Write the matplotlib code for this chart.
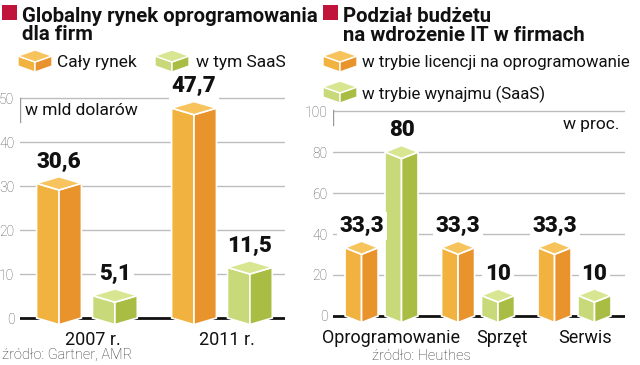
import numpy as np
import matplotlib.pyplot as plt
import matplotlib.transforms as mtransforms
from matplotlib.patches import Polygon, Rectangle

plt.rcParams['font.family'] = ['Roboto', 'DejaVu Sans']

# --- dane ---
lata = ['2007 r.', '2011 r.']
caly_rynek = [30.6, 47.7]
w_tym_saas = [5.1, 11.5]

kategorie = ['Oprogramowanie', 'Sprzęt', 'Serwis']
licencja = [33.3, 33.3, 33.3]
wynajem = [80, 10, 10]

# --- kolory ---
POMAR = ('#F2B23F', '#E8932B', '#F7C35C')   # lewa sciana, prawa sciana, gora
ZIEL = ('#C8D97A', '#A9BD45', '#D8E692')
CZERW = '#C0143C'
GRID = '#BDBDBD'

W, H = 640, 365
fig = plt.figure(figsize=(W / 100, H / 100), dpi=100)
px = mtransforms.Affine2D().scale(1 / W, -1 / H).translate(0, 1) + fig.transFigure


def fmt(v):
    return ('%g' % v).replace('.', ',')


def kostka(ax, c, w, v, d, cols):
    lewa = [(c - w, 0), (c, -d), (c, v - d), (c - w, v)]
    prawa = [(c, -d), (c + w, 0), (c + w, v), (c, v - d)]
    gora = [(c - w, v), (c, v - d), (c + w, v), (c, v + d)]
    for pts, col in zip((lewa, prawa, gora), cols):
        ax.add_patch(Polygon(pts, closed=True, fc=col, ec='white', lw=1.2,
                             zorder=3, clip_on=False))
    ax.annotate(fmt(v), (c, v + d), xytext=(0, 3), textcoords='offset points',
                ha='center', va='bottom', fontsize=16, fontweight='black',
                color='#111', zorder=4,
                bbox=dict(boxstyle='square,pad=0.12', fc='white', ec='none'))


def ikona(x, y, cols):
    w, d, h = 17, 6, 10
    c = x + w
    lewa = [(x, y + d), (c, y + 2 * d), (c, y + 2 * d + h), (x, y + d + h)]
    prawa = [(c, y + 2 * d), (x + 2 * w, y + d), (x + 2 * w, y + d + h), (c, y + 2 * d + h)]
    gora = [(x, y + d), (c, y + 2 * d), (x + 2 * w, y + d), (c, y)]
    for pts, col in zip((lewa, prawa, gora), cols):
        fig.add_artist(Polygon(pts, closed=True, fc=col, ec='white', lw=1, transform=px))


def ftext(x, y, s, **kw):
    fig.text(x / W, 1 - y / H, s, **kw)


def uklad(ax, ylim, step, grupy, przes, xlim):
    ax.set_xlim(*xlim)
    ax.set_ylim(*ylim)
    ax.set_yticks(np.arange(0, ylim[1], step))
    ax.set_xticks(np.arange(len(grupy)) + np.array(przes), grupy)
    for s in ax.spines.values():
        s.set_visible(False)
    ax.tick_params(length=0)
    ax.tick_params(axis='y', pad=4, labelsize=10, labelcolor='#555')
    ax.tick_params(axis='x', pad=3, labelsize=13, labelcolor='#111')
    for t in ax.get_yticklabels():
        t.set_fontweight('light')
    ax.yaxis.grid(True, color=GRID, lw=1)
    ax.set_axisbelow(True)
    ax.axhline(0, color='#111', lw=2, zorder=2)


# --- lewy wykres ---
ax1 = fig.add_axes([20 / W, 1 - 326.8 / H, 265 / W, 231 / H])
uklad(ax1, (-2, 50.5), 10, lata, [0.045, 0.04], (-0.496, 1.467))
x = np.arange(len(lata))
for i in range(len(lata)):
    kostka(ax1, x[i] - 0.207, 0.166, caly_rynek[i], 1.5, POMAR)
    kostka(ax1, x[i] + 0.207, 0.166, w_tym_saas[i], 1.5, ZIEL)
ax1.axvline(-0.496, ymin=0.887, ymax=0.99, color='#999', lw=1)
ax1.text(0.02, 0.938, 'w mld dolarów', transform=ax1.transAxes,
         ha='left', va='center', fontsize=12.5, color='#111')

# --- prawy wykres ---
ax2 = fig.add_axes([333 / W, 1 - 325 / H, 292 / W, 216 / H])
uklad(ax2, (-4.4, 101), 20, kategorie, [0.1, 0.25, 0.11], (-0.503, 2.523))
x = np.arange(len(kategorie))
for i in range(len(kategorie)):
    kostka(ax2, x[i] - 0.207, 0.171, licencja[i], 3.2, POMAR)
    kostka(ax2, x[i] + 0.207, 0.171, wynajem[i], 3.2, ZIEL)
ax2.axvline(-0.503, ymin=0.926, ymax=0.995, color='#999', lw=1)
ax2.text(0.98, 0.93, 'w proc.', transform=ax2.transAxes,
         ha='right', va='center', fontsize=12.5, color='#111')

# --- tytuly i legendy ---
for xr in (2, 323):
    fig.add_artist(Rectangle((xr, 5), 15, 15, fc=CZERW, ec='none', transform=px))
tkw = dict(fontsize=14.7, fontweight='bold', color='#111', va='baseline')
ftext(22, 22, 'Globalny rynek oprogramowania', **tkw)
ftext(22, 40, 'dla firm', **tkw)
ftext(343, 22, 'Podział budżetu', **tkw)
ftext(343, 41, 'na wdrożenie IT w firmach', **tkw)

ikona(18, 50, POMAR)
ftext(57, 62, 'Cały rynek', fontsize=12.5, color='#111', va='center')
ikona(155, 50, ZIEL)
ftext(196, 62, 'w tym SaaS', fontsize=12.5, color='#111', va='center')
ikona(323, 50, POMAR)
ftext(362, 63, 'w trybie licencji na oprogramowanie', fontsize=12.2, color='#111', va='center')
ikona(323, 81, ZIEL)
ftext(362, 94, 'w trybie wynajmu (SaaS)', fontsize=12.2, color='#111', va='center')

skw = dict(fontsize=10.5, color='#333', va='center', fontweight='light')
ftext(2, 355, 'źródło: Gartner, AMR', **skw)
ftext(372, 356, 'źródło: Heuthes', **skw)

fig.savefig('out.png', dpi=100)
